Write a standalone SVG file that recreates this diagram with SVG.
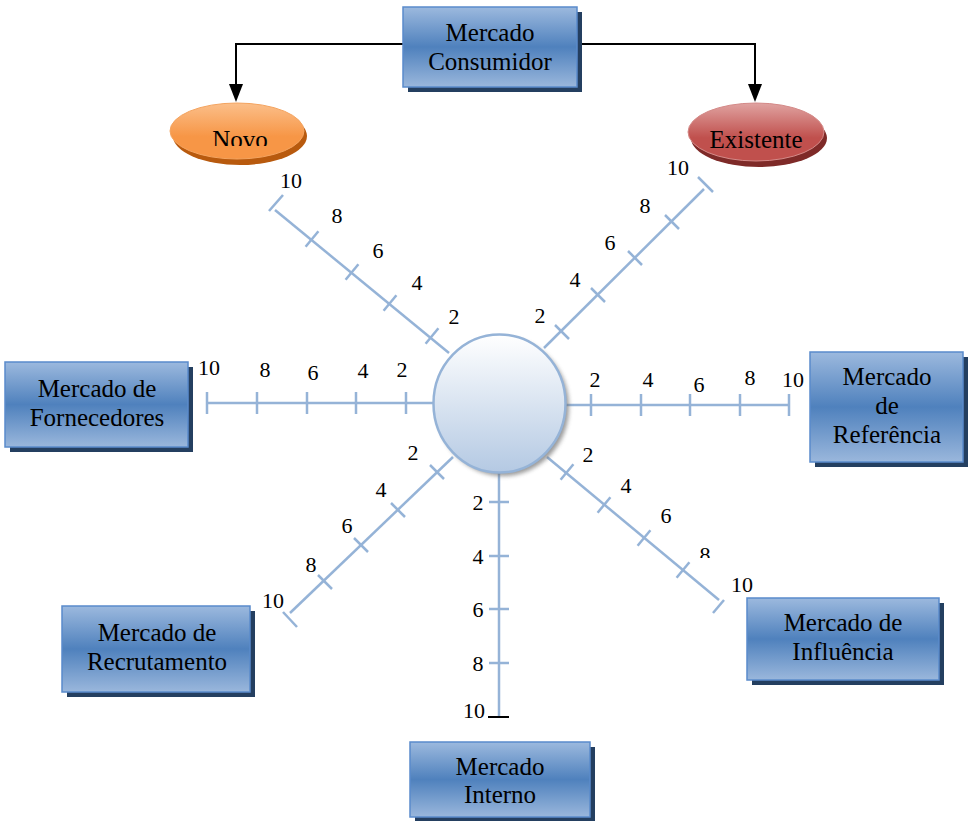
<svg xmlns="http://www.w3.org/2000/svg" width="971" height="821" viewBox="0 0 971 821" font-family="'Liberation Serif', 'Times New Roman', serif">
<style>
.box{fill:url(#boxGrad);stroke:#5a8bcb;stroke-width:1.5}
.shadow{fill:#243f60}
.t{font-family:'Liberation Serif','Times New Roman',serif;font-size:25px;fill:#000;text-anchor:middle}
.n{font-family:'Liberation Serif','Times New Roman',serif;font-size:22px;fill:#000;text-anchor:middle}
.ax{stroke:#95b3d7;stroke-width:2.5;fill:none}
.conn{stroke:#000;stroke-width:2;fill:none}
</style>
<defs>
<linearGradient id="boxGrad" x1="0" y1="0" x2="0" y2="1">
<stop offset="0" stop-color="#9cb9de"/>
<stop offset="0.5" stop-color="#4f81bd"/>
<stop offset="1" stop-color="#9ab7dc"/>
</linearGradient>
<linearGradient id="novoGrad" x1="0" y1="0" x2="0" y2="1">
<stop offset="0" stop-color="#fbbf8a"/>
<stop offset="0.6" stop-color="#f79646"/>
<stop offset="1" stop-color="#f79646"/>
</linearGradient>
<linearGradient id="exGrad" x1="0" y1="0" x2="0" y2="1">
<stop offset="0" stop-color="#e0a3a1"/>
<stop offset="0.6" stop-color="#c0504d"/>
<stop offset="1" stop-color="#c0504d"/>
</linearGradient>
<linearGradient id="circGrad" x1="0" y1="0" x2="0" y2="1">
<stop offset="0" stop-color="#ffffff"/>
<stop offset="1" stop-color="#b4c9e3"/>
</linearGradient>
<filter id="blur" x="-20%" y="-20%" width="140%" height="140%">
<feGaussianBlur stdDeviation="2"/>
</filter>
<clipPath id="clipNovo"><rect x="150" y="90" width="180" height="56"/></clipPath>
<clipPath id="clip8"><rect x="690" y="530" width="40" height="28"/></clipPath>
</defs>

<g id="connectors">
<path class="conn" d="M403,44 H236 V84"/>
<path d="M229,84 L243,84 L236,102 Z" fill="#000"/>
<path class="conn" d="M577,44 H755 V84"/>
<path d="M748,84 L762,84 L755,102 Z" fill="#000"/>

<g id="axis-left">
<line class="ax" x1="207" y1="403" x2="434" y2="403"/>
<line class="ax" x1="207" y1="392" x2="207" y2="414"/>
<line class="ax" x1="257" y1="392" x2="257" y2="414"/>
<line class="ax" x1="307" y1="392" x2="307" y2="414"/>
<line class="ax" x1="356" y1="392" x2="356" y2="414"/>
<line class="ax" x1="406" y1="392" x2="406" y2="414"/>
<text class="n" x="209" y="375">10</text>
<text class="n" x="265" y="377">8</text>
<text class="n" x="313" y="380">6</text>
<text class="n" x="363" y="378">4</text>
<text class="n" x="402" y="377">2</text>
</g>

<g id="axis-right">
<line class="ax" x1="565" y1="405" x2="789" y2="405"/>
<line class="ax" x1="591" y1="394" x2="591" y2="416"/>
<line class="ax" x1="641" y1="394" x2="641" y2="416"/>
<line class="ax" x1="690" y1="394" x2="690" y2="416"/>
<line class="ax" x1="740" y1="394" x2="740" y2="416"/>
<line class="ax" x1="789" y1="394" x2="789" y2="416"/>
<text class="n" x="595" y="387">2</text>
<text class="n" x="648" y="387">4</text>
<text class="n" x="699" y="392">6</text>
<text class="n" x="750" y="385">8</text>
<text class="n" x="793" y="387">10</text>
</g>

<g id="axis-bottom">
<line class="ax" x1="499" y1="470" x2="499" y2="717"/>
<line class="ax" x1="489" y1="502" x2="509" y2="502"/>
<line class="ax" x1="489" y1="556" x2="509" y2="556"/>
<line class="ax" x1="489" y1="609" x2="509" y2="609"/>
<line class="ax" x1="489" y1="663" x2="509" y2="663"/>
<line x1="488" y1="717" x2="509" y2="717" stroke="#000" stroke-width="2"/>
<text class="n" x="478" y="510">2</text>
<text class="n" x="478" y="564">4</text>
<text class="n" x="478" y="617">6</text>
<text class="n" x="478" y="671">8</text>
<text class="n" x="474" y="718">10</text>
</g>

<g id="axis-upper-left">
<line class="ax" x1="275" y1="210" x2="449" y2="353"/>
<line class="ax" x1="269" y1="211" x2="283" y2="195"/>
<line class="ax" x1="305.6" y1="246.7" x2="318.4" y2="231.3"/>
<line class="ax" x1="345.6" y1="279.7" x2="358.4" y2="264.3"/>
<line class="ax" x1="383.6" y1="310.7" x2="396.4" y2="295.3"/>
<line class="ax" x1="425.6" y1="343.7" x2="438.4" y2="328.3"/>
<text class="n" x="291" y="188">10</text>
<text class="n" x="337" y="223">8</text>
<text class="n" x="378" y="258">6</text>
<text class="n" x="417" y="290">4</text>
<text class="n" x="454" y="324">2</text>
</g>

<g id="axis-upper-right">
<line class="ax" x1="544" y1="348" x2="704" y2="189"/>
<line class="ax" x1="698" y1="177" x2="713" y2="192"/>
<line class="ax" x1="555" y1="325" x2="569" y2="339"/>
<line class="ax" x1="591" y1="288" x2="605" y2="302"/>
<line class="ax" x1="628" y1="251" x2="642" y2="265"/>
<line class="ax" x1="665" y1="215" x2="679" y2="229"/>
<text class="n" x="678" y="175">10</text>
<text class="n" x="645" y="213">8</text>
<text class="n" x="610" y="250">6</text>
<text class="n" x="575" y="287">4</text>
<text class="n" x="540" y="323">2</text>
</g>

<g id="axis-lower-left">
<line class="ax" x1="453" y1="457" x2="290" y2="613"/>
<line class="ax" x1="283" y1="612" x2="297" y2="627"/>
<line class="ax" x1="430" y1="465" x2="444" y2="479"/>
<line class="ax" x1="391" y1="503" x2="405" y2="517"/>
<line class="ax" x1="354" y1="538" x2="368" y2="552"/>
<line class="ax" x1="318" y1="575" x2="332" y2="589"/>
<text class="n" x="413" y="460">2</text>
<text class="n" x="381" y="497">4</text>
<text class="n" x="347" y="533">6</text>
<text class="n" x="311" y="572">8</text>
<text class="n" x="273" y="608">10</text>
</g>

<g id="axis-lower-right">
<line class="ax" x1="547" y1="457" x2="719" y2="600"/>
<line class="ax" x1="713" y1="613" x2="724" y2="600"/>
<line class="ax" x1="560.6" y1="479.7" x2="573.4" y2="464.3"/>
<line class="ax" x1="597.6" y1="512.7" x2="610.4" y2="497.3"/>
<line class="ax" x1="637.6" y1="545.7" x2="650.4" y2="530.3"/>
<line class="ax" x1="676.6" y1="577.7" x2="689.4" y2="562.3"/>
<text class="n" x="588" y="462">2</text>
<text class="n" x="626" y="493">4</text>
<text class="n" x="666" y="523">6</text>
<text class="n" x="705" y="562" clip-path="url(#clip8)">8</text>
<text class="n" x="742" y="592">10</text>
</g>
</g>

<g id="center">
<ellipse cx="503" cy="407" rx="66" ry="69" fill="#6f6f6f" opacity="0.7" filter="url(#blur)"/>
<ellipse cx="499.5" cy="403.5" rx="66" ry="69" fill="url(#circGrad)" stroke="#95b3d7" stroke-width="2.5"/>
</g>

<g id="node-consumidor">
<rect class="shadow" x="408" y="12" width="174" height="80"/>
<rect class="box" x="403" y="7" width="174" height="80"/>
<text class="t" x="490" y="41">Mercado</text>
<text class="t" x="490" y="70">Consumidor</text>
</g>

<g id="node-novo">
<ellipse cx="240" cy="136" rx="67" ry="29" fill="#b85a0e"/>
<ellipse cx="237" cy="131" rx="67" ry="28" fill="url(#novoGrad)" stroke="#f4a460" stroke-width="1"/>
<text class="t" x="240" y="148" clip-path="url(#clipNovo)">Novo</text>
</g>

<g id="node-existente">
<ellipse cx="759" cy="138" rx="68" ry="29" fill="#7e2a28"/>
<ellipse cx="756" cy="132" rx="68" ry="29" fill="url(#exGrad)" stroke="#d48a88" stroke-width="1"/>
<text class="t" x="756" y="148">Existente</text>
</g>

<g id="node-fornecedores">
<rect class="shadow" x="10" y="367" width="183" height="85"/>
<rect class="box" x="5" y="362" width="183" height="85"/>
<text class="t" x="97" y="397">Mercado de</text>
<text class="t" x="97" y="426">Fornecedores</text>
</g>

<g id="node-referencia">
<rect class="shadow" x="815" y="357" width="153" height="110"/>
<rect class="box" x="810" y="352" width="153" height="110"/>
<text class="t" x="887" y="385">Mercado</text>
<text class="t" x="887" y="414">de</text>
<text class="t" x="887" y="443">Referência</text>
</g>

<g id="node-recrutamento">
<rect class="shadow" x="67" y="611" width="188" height="86"/>
<rect class="box" x="62" y="606" width="188" height="86"/>
<text class="t" x="157" y="641">Mercado de</text>
<text class="t" x="157" y="670">Recrutamento</text>
</g>

<g id="node-influencia">
<rect class="shadow" x="752" y="603" width="192" height="82"/>
<rect class="box" x="747" y="598" width="192" height="82"/>
<text class="t" x="843" y="631">Mercado de</text>
<text class="t" x="843" y="660">Influência</text>
</g>

<g id="node-interno">
<rect class="shadow" x="415" y="747" width="180" height="74"/>
<rect class="box" x="410" y="742" width="180" height="75"/>
<text class="t" x="500" y="775">Mercado</text>
<text class="t" x="500" y="803">Interno</text>
</g>
</svg>
